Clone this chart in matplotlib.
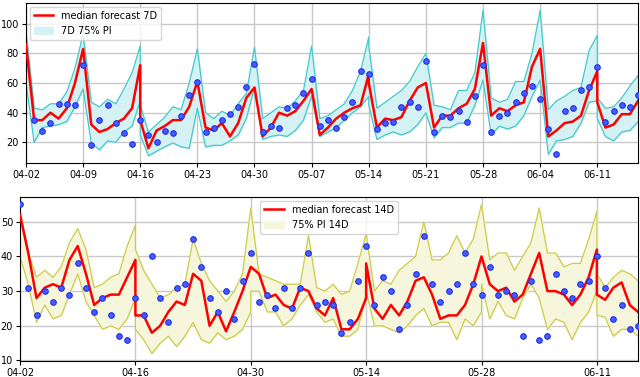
import matplotlib
matplotlib.use("Agg")
import matplotlib.pyplot as plt
import matplotlib.dates as mdates
import pandas as pd

start_date = "2023-04-02"

# ---------- 7-day forecasts (top) ----------
# day offsets from start; a repeated day marks where a new forecast run begins
fc7_days = list(range(0, 15)) + list(range(14, 43)) + list(range(42, 71)) + list(range(70, 76))
fc7_median = [86, 35, 35, 40, 36, 43, 60, 83, 32, 27, 29, 33, 36, 43, 72,
              35, 16, 28, 31, 35, 35, 44, 61, 30, 28, 33, 24, 33, 50, 57, 24, 30, 40, 38, 41, 48, 56, 25, 30, 36, 40, 43, 45, 66,
              60, 30, 36, 35, 37, 48, 57, 60, 30, 38, 38, 43, 46, 56, 87, 38, 43, 41, 45, 47, 71, 83, 24, 28, 33, 34, 38, 55, 68,
              47, 30, 32, 39, 39, 48]
fc7_upper = [95, 43, 42, 46, 46, 54, 70, 93, 47, 44, 49, 46, 56, 67, 85,
             45, 27, 32, 37, 44, 42, 60, 83, 40, 36, 41, 38, 46, 53, 84, 36, 40, 44, 43, 48, 55, 85, 36, 38, 42, 46, 55, 68, 91,
             85, 43, 47, 51, 55, 61, 71, 80, 45, 44, 42, 55, 55, 67, 109, 50, 47, 49, 61, 61, 80, 109, 42, 48, 51, 55, 57, 82, 92,
             50, 43, 44, 50, 58, 65]
fc7_lower = [60, 20, 30, 31, 32, 34, 44, 56, 19.5, 15, 21, 20, 27, 31, 48,
             25, 11, 14, 17, 19.6, 17, 16, 43, 17, 18, 18, 21, 25, 36, 57, 22, 24, 25, 24, 28, 35, 51, 24, 27, 30, 35, 40, 44, 51,
             45, 22, 25, 27, 25, 27, 32, 40, 23, 30, 30, 33, 33, 45, 62, 25, 31, 29, 31, 38, 51, 62, 12, 21, 22, 24, 33, 47, 48,
             36, 24, 21, 27, 28, 34]
obs7_days = list(range(1, 76))
obs7 = [35, 28, 33, 46, 46, 45, 72, 18, 35, 45,
        33, 26, 19, 35, 25, 20, 28, 26, 38, 52,
        61, 27, 30, 35, 39, 44, 57, 73, 27, 31,
        30, 43, 45, 53, 63, 31, 35, 30, 37, 47,
        68, 66, 29, 33, 34, 44, 47, 44, 75, 27,
        38, 37, 41, 34, 51, 72, 27, 38, 40, 47,
        53, 58, 49, 29, 12, 41, 43, 55, 57, 71,
        34, 41, 45, 44, 52]

# ---------- 14-day forecasts (bottom) ----------
fc14_days = (list(range(0, 15)) + list(range(14, 29)) + list(range(28, 43)) +
             list(range(42, 57)) + list(range(56, 71)) + list(range(70, 76)))
fc14_median = [52, 41, 28, 31, 32, 31, 39, 43, 35, 26, 28, 29, 29, 34, 39,
               23, 23, 18, 20, 24, 27, 26, 35, 33, 20, 24, 18.4, 24, 30, 37,
               37, 35, 28, 29, 26, 25, 31, 30, 25, 23, 28, 19, 19, 22, 28,
               38, 25, 22, 26, 23, 27, 33, 34, 29, 22, 23, 23, 26, 32, 40,
               40, 32, 30, 31, 27, 29, 35, 41, 30, 30, 29, 26, 29, 34, 42,
               29, 27.5, 31, 32.5, 26, 24]
fc14_upper = [53, 41, 34, 36, 34, 37, 44, 48, 42, 31, 32, 34, 35, 43, 49,
              42, 36, 32, 28, 29, 31, 32, 45, 38, 33, 30, 27, 30, 35, 54,
              54, 35, 34, 33, 32, 32, 32, 46, 31, 30, 32, 29, 30, 38, 46.5,
              46.5, 30, 33, 32, 36, 38, 40, 50, 39, 39, 41, 46, 41, 45, 55,
              55, 39, 41, 41, 36, 40, 44, 54, 41, 41, 37, 38, 38, 45, 53,
              35, 31, 34, 36, 35, 33]
fc14_lower = [40, 32, 21, 26, 22, 23, 29, 35, 27, 23, 19, 20, 19, 22, 28,
              19, 16, 12, 15, 17, 14, 17, 21, 16, 15, 18, 16, 17, 19, 24,
              30, 30, 24, 24, 20, 22, 26, 29, 24, 21, 22, 17, 17, 19, 29,
              30, 20, 20, 19, 18, 20, 23, 25, 20, 21, 21, 16, 22, 20, 24,
              32, 22, 27, 23, 22, 28, 32, 28, 19, 22, 21, 16, 21, 24, 30,
              23, 22.5, 17, 19, 19, 17]
obs14_days = list(range(0, 76))
obs14 = [55, 31, 23, 30, 27, 31, 29, 38, 31, 24, 28, 23, 17, 16, 28, 23, 40, 28, 21, 31, 32, 45, 37, 28, 24,
         30, 22, 33, 41, 27, 29, 25, 31, 25, 31, 41, 26, 27, 26, 18, 21, 33, 43, 26, 34, 30, 19, 26, 35, 46,
         32, 27, 30, 32, 41, 32, 29, 37, 29, 30, 29, 17, 33, 16, 17, 35, 30, 28, 32, 33, 40, 31, 22, 26, 19, 20]

end_day = 75


def to_dates(days):
    return pd.Timestamp(start_date) + pd.to_timedelta(days, unit="D")


plt.rcParams["font.size"] = 7
fig = plt.figure(figsize=(6.4, 3.77), dpi=100)
ax1 = fig.add_axes([0.0406, 0.5676, 0.9564, 0.4244])
ax2 = fig.add_axes([0.0313, 0.0424, 0.9657, 0.4351])


def draw(ax, fdays, med, up, lo, odays, obs, line_label, band_label, edge, face, tick_step, loc):
    fx = to_dates(fdays)
    band = ax.fill_between(fx, lo, up, color=face, label=band_label, zorder=1)
    ax.plot(fx, up, color=edge, lw=0.9, zorder=2)
    ax.plot(fx, lo, color=edge, lw=0.9, zorder=2)
    line, = ax.plot(fx, med, color="red", lw=1.8, label=line_label, zorder=3)
    ax.plot(to_dates(odays), obs, "o", ms=4, mfc="#4a5cff", mec="#1a2ee8", mew=0.8, zorder=4)
    ax.set_xlim(to_dates(0), to_dates(end_day))
    ax.set_xticks(to_dates(list(range(0, end_day + 1, tick_step))))
    ax.xaxis.set_major_formatter(mdates.DateFormatter("%m-%d"))
    ax.grid(True, color="#c8c8c8", lw=1.0)
    ax.set_axisbelow(True)
    ax.tick_params(labelsize=7, length=3, pad=2)
    ax.legend(handles=[line, band], loc=loc, fontsize=7, borderaxespad=0.4)


draw(ax1, fc7_days, fc7_median, fc7_upper, fc7_lower, obs7_days, obs7,
     "median forecast 7D", "7D 75% PI", "#45c8cc", "#d4f2f3", 7, "upper left")
draw(ax2, fc14_days, fc14_median, fc14_upper, fc14_lower, obs14_days, obs14,
     "median forecast 14D", "75% PI 14D", "#cccc4a", "#f6f6dc", 14, "upper center")
ax1.set_yticks([20, 40, 60, 80, 100])
ax2.set_yticks([10, 20, 30, 40, 50])

fig.savefig("out.png", dpi=100)
